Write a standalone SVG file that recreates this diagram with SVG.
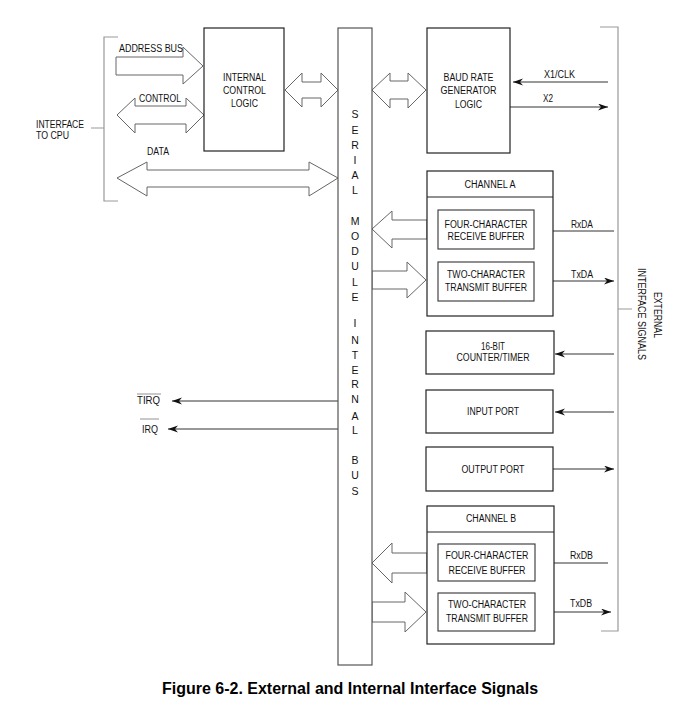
<svg xmlns="http://www.w3.org/2000/svg" width="689" height="722" viewBox="0 0 689 722">
<style>
text{font-family:"Liberation Sans",Arial,sans-serif;font-size:10px;fill:#111}
.m{text-anchor:middle}
.bl{font-size:10.5px}
.box{fill:#fff;stroke:#222;stroke-width:1.2}
.sub{fill:#fff;stroke:#333;stroke-width:1.1}
.bus{fill:#fff;stroke:#555;stroke-width:1.2}
.hol{fill:#fff;stroke:#666;stroke-width:1}
.ln{fill:none;stroke:#333;stroke-width:1}
.br{fill:none;stroke:#999;stroke-width:1.2}
.title{font-size:16px;font-weight:bold;fill:#000;text-anchor:middle}
</style>
<defs>
<marker id="ah" markerUnits="userSpaceOnUse" markerWidth="11" markerHeight="8" refX="10" refY="3.5" orient="auto">
<path d="M0,0 L10,3.5 L0,7 L3,3.5 z" fill="#111"/>
</marker>
</defs>
<rect width="689" height="722" fill="#fff"/>

<g id="brackets">
<path class="br" d="M118,37 H104 V201 H118 M91,128 H104"/>
<path class="br" d="M600,27 H618 V631 H601 M618,309 H632"/>
</g>

<g id="connectors">
<polygon class="hol" points="116,57 183,57 183,47 203,66 183,84 183,75 116,75"/>
<polygon class="hol" points="117,115 135,98 135,106 186,106 186,98 204,115 186,133 186,124 135,124 135,133"/>
<polygon class="hol" points="117,178 147,162 147,170 309,170 309,162 338,178 309,196 309,187 147,187 147,196"/>
<polygon class="hol" points="285,90 302,73 302,82 321,82 321,73 338,90 321,107 321,98 302,98 302,107"/>
<polygon class="hol" points="372,90 390,73 390,81 408,81 408,73 426,90 408,108 408,99 390,99 390,108"/>
<polygon class="hol" points="372,229 392,211 392,220 427,220 427,239 392,239 392,248"/>
<polygon class="hol" points="372,271 407,271 407,262 426,280 407,298 407,289 372,289"/>
<polygon class="hol" points="372,563 392,543 392,553 427,553 427,573 392,573 392,583"/>
<polygon class="hol" points="372,602 405,602 405,592 426,612 405,632 405,622 372,622"/>
<line class="ln" x1="608" y1="82" x2="513" y2="82" marker-end="url(#ah)"/>
<line class="ln" x1="510" y1="107" x2="608" y2="107" marker-end="url(#ah)"/>
<line class="ln" x1="614" y1="231" x2="536" y2="231" marker-end="url(#ah)"/>
<line class="ln" x1="534" y1="281" x2="614" y2="281" marker-end="url(#ah)"/>
<line class="ln" x1="614" y1="354" x2="555" y2="354" marker-end="url(#ah)"/>
<line class="ln" x1="614" y1="412" x2="555" y2="412" marker-end="url(#ah)"/>
<line class="ln" x1="553" y1="469" x2="614" y2="469" marker-end="url(#ah)"/>
<line class="ln" x1="608" y1="563" x2="537" y2="563" marker-end="url(#ah)"/>
<line class="ln" x1="535" y1="612" x2="611" y2="612" marker-end="url(#ah)"/>
<line class="ln" x1="338" y1="401" x2="172" y2="401" marker-end="url(#ah)"/>
<line class="ln" x1="338" y1="429" x2="168" y2="429" marker-end="url(#ah)"/>
</g>

<g id="labels">
<text x="119" y="52" textLength="64" lengthAdjust="spacingAndGlyphs">ADDRESS BUS</text>
<text x="139" y="102" textLength="42" lengthAdjust="spacingAndGlyphs">CONTROL</text>
<text x="147" y="155" textLength="22" lengthAdjust="spacingAndGlyphs">DATA</text>
<text x="36" y="128" textLength="48" lengthAdjust="spacingAndGlyphs">INTERFACE</text>
<text x="36" y="138.5" textLength="33" lengthAdjust="spacingAndGlyphs">TO CPU</text>
<text x="544" y="78" textLength="31" lengthAdjust="spacingAndGlyphs">X1/CLK</text>
<text x="543" y="102" textLength="10" lengthAdjust="spacingAndGlyphs">X2</text>
<text x="571" y="228" textLength="22" lengthAdjust="spacingAndGlyphs">RxDA</text>
<text x="571" y="278" textLength="22" lengthAdjust="spacingAndGlyphs">TxDA</text>
<text x="570" y="559" textLength="23" lengthAdjust="spacingAndGlyphs">RxDB</text>
<text x="570" y="607" textLength="22" lengthAdjust="spacingAndGlyphs">TxDB</text>
<text x="137" y="404" textLength="23" lengthAdjust="spacingAndGlyphs">TIRQ</text>
<line x1="137" y1="394" x2="161" y2="394" stroke="#777" stroke-width="0.8"/>
<text x="142" y="433" textLength="16" lengthAdjust="spacingAndGlyphs">IRQ</text>
<line x1="140" y1="419" x2="159" y2="419" stroke="#777" stroke-width="0.8"/>
<text class="m" transform="translate(654,315) rotate(90)" textLength="46" lengthAdjust="spacingAndGlyphs">EXTERNAL</text>
<text class="m" transform="translate(638,314) rotate(90)" textLength="92" lengthAdjust="spacingAndGlyphs">INTERFACE SIGNALS</text>
</g>

<g id="bus">
<rect class="bus" x="338" y="28" width="34" height="637"/>
<text class="m bl" x="355" y="118">S</text>
<text class="m bl" x="355" y="134">E</text>
<text class="m bl" x="355" y="149">R</text>
<text class="m bl" x="355" y="164">I</text>
<text class="m bl" x="355" y="179">A</text>
<text class="m bl" x="355" y="194">L</text>
<text class="m bl" x="355" y="225">M</text>
<text class="m bl" x="355" y="240">O</text>
<text class="m bl" x="355" y="255">D</text>
<text class="m bl" x="355" y="270">U</text>
<text class="m bl" x="355" y="286">L</text>
<text class="m bl" x="355" y="301">E</text>
<text class="m bl" x="355" y="327">I</text>
<text class="m bl" x="355" y="344">N</text>
<text class="m bl" x="355" y="359">T</text>
<text class="m bl" x="355" y="374">E</text>
<text class="m bl" x="355" y="388">R</text>
<text class="m bl" x="355" y="403">N</text>
<text class="m bl" x="355" y="420">A</text>
<text class="m bl" x="355" y="434">L</text>
<text class="m bl" x="355" y="464">B</text>
<text class="m bl" x="355" y="479">U</text>
<text class="m bl" x="355" y="495">S</text>
</g>

<g id="internal-control-logic">
<rect class="box" x="204" y="28" width="80" height="123"/>
<text class="m" x="244.5" y="81" textLength="43" lengthAdjust="spacingAndGlyphs">INTERNAL</text>
<text class="m" x="244.5" y="94" textLength="43" lengthAdjust="spacingAndGlyphs">CONTROL</text>
<text class="m" x="244.5" y="107" textLength="27" lengthAdjust="spacingAndGlyphs">LOGIC</text>
</g>

<g id="baud-rate-generator">
<rect class="box" x="427" y="28" width="83" height="125"/>
<text class="m" x="468.5" y="81" textLength="50" lengthAdjust="spacingAndGlyphs">BAUD RATE</text>
<text class="m" x="468.5" y="94" textLength="56" lengthAdjust="spacingAndGlyphs">GENERATOR</text>
<text class="m" x="468.5" y="108" textLength="27" lengthAdjust="spacingAndGlyphs">LOGIC</text>
</g>

<g id="channel-a">
<rect class="box" x="427" y="171" width="126" height="145"/>
<line x1="427" y1="197" x2="553" y2="197" stroke="#222" stroke-width="1.2"/>
<text class="m" x="490" y="188" textLength="51" lengthAdjust="spacingAndGlyphs">CHANNEL A</text>
<g id="rx-buffer-a">
<rect class="sub" x="438" y="210" width="96" height="39"/>
<text class="m" x="486" y="228" textLength="83" lengthAdjust="spacingAndGlyphs">FOUR-CHARACTER</text>
<text class="m" x="486" y="239.5" textLength="77" lengthAdjust="spacingAndGlyphs">RECEIVE BUFFER</text>
</g>
<g id="tx-buffer-a">
<rect class="sub" x="438" y="262" width="96" height="39"/>
<text class="m" x="486" y="278" textLength="78" lengthAdjust="spacingAndGlyphs">TWO-CHARACTER</text>
<text class="m" x="486" y="291" textLength="82" lengthAdjust="spacingAndGlyphs">TRANSMIT BUFFER</text>
</g>
</g>

<g id="counter-timer">
<rect class="box" x="426" y="331" width="128" height="43"/>
<text class="m" x="493" y="350" textLength="24" lengthAdjust="spacingAndGlyphs">16-BIT</text>
<text class="m" x="493" y="361" textLength="73" lengthAdjust="spacingAndGlyphs">COUNTER/TIMER</text>
</g>

<g id="input-port">
<rect class="box" x="426" y="390" width="127" height="43"/>
<text class="m" x="493" y="415" textLength="52" lengthAdjust="spacingAndGlyphs">INPUT PORT</text>
</g>

<g id="output-port">
<rect class="box" x="426" y="447" width="127" height="44"/>
<text class="m" x="493" y="473" textLength="63" lengthAdjust="spacingAndGlyphs">OUTPUT PORT</text>
</g>

<g id="channel-b">
<rect class="box" x="427" y="506" width="127" height="138"/>
<line x1="427" y1="532" x2="554" y2="532" stroke="#222" stroke-width="1.2"/>
<text class="m" x="491" y="522" textLength="50" lengthAdjust="spacingAndGlyphs">CHANNEL B</text>
<g id="rx-buffer-b">
<rect class="sub" x="438" y="544" width="97" height="37"/>
<text class="m" x="487" y="559" textLength="83" lengthAdjust="spacingAndGlyphs">FOUR-CHARACTER</text>
<text class="m" x="487" y="574" textLength="77" lengthAdjust="spacingAndGlyphs">RECEIVE BUFFER</text>
</g>
<g id="tx-buffer-b">
<rect class="sub" x="438" y="593" width="97" height="38"/>
<text class="m" x="487" y="608" textLength="78" lengthAdjust="spacingAndGlyphs">TWO-CHARACTER</text>
<text class="m" x="487" y="622" textLength="82" lengthAdjust="spacingAndGlyphs">TRANSMIT BUFFER</text>
</g>
</g>

<text class="title" x="350" y="694">Figure 6-2. External and Internal Interface Signals</text>
</svg>
